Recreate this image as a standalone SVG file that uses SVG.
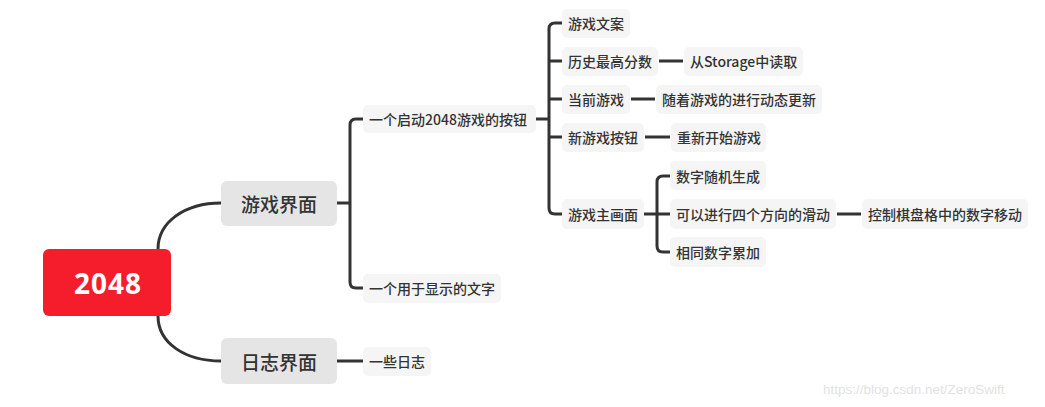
<svg xmlns="http://www.w3.org/2000/svg" width="1045" height="407" viewBox="0 0 1045 407">
<style>
.c{fill:none;stroke:#333;stroke-width:3;stroke-linecap:butt}
.n{fill:#f5f5f5}
.m{fill:#e5e5e5}
.t{font-family:"Noto Sans CJK SC","Noto Sans",sans-serif;fill:#333;font-size:14px;font-weight:500;dominant-baseline:central}
.tm{font-size:19px}
</style>
<rect width="1045" height="407" fill="#fff"/>
<g id="connectors">
<path class="c" d="M158,249 C158,222 185,203 221,203"/>
<path class="c" d="M158,316 C158,343 185,361 221,361"/>
<path class="c" d="M337,203 H350"/>
<path class="c" d="M363,119 H356 Q350,119 350,125 V282 Q350,288 356,288 H363"/>
<path class="c" d="M337,361 H363"/>
<path class="c" d="M536,119 H549"/>
<path class="c" d="M562,23 H555 Q549,23 549,29 V208 Q549,214 555,214 H562"/>
<path class="c" d="M549,61 H562 M549,99 H562 M549,137 H562"/>
<path class="c" d="M659,61 H683 M631,99 H655 M645,137 H670"/>
<path class="c" d="M644,214 H670"/>
<path class="c" d="M670,176 H663 Q657,176 657,182 V246 Q657,252 663,252 H670"/>
<path class="c" d="M837,214 H861"/>
</g>
<g id="root"><rect x="43" y="249" width="128" height="67" rx="6" fill="#f51d2c"/><text x="108" y="283" text-anchor="middle" style="font-family:'Noto Sans','Noto Sans CJK SC',sans-serif;font-size:28px;font-weight:bold;letter-spacing:1px;fill:#fff;dominant-baseline:central">2048</text></g>
<g id="n-game"><rect class="m" x="221" y="181" width="116" height="45" rx="6"/><text class="t tm" x="279" y="203" text-anchor="middle">游戏界面</text></g>
<g id="n-log"><rect class="m" x="221" y="338" width="116" height="46" rx="6"/><text class="t tm" x="279" y="361" text-anchor="middle">日志界面</text></g>
<g id="n-btn"><rect class="n" x="363" y="105" width="173" height="28" rx="5"/><text class="t" x="369" y="119">一个启动2048游戏的按钮</text></g>
<g id="n-text"><rect class="n" x="363" y="274" width="138" height="29" rx="5"/><text class="t" x="369" y="288">一个用于显示的文字</text></g>
<g id="n-logs"><rect class="n" x="363" y="347" width="68" height="29" rx="5"/><text class="t" x="369" y="361">一些日志</text></g>
<g id="n-copy"><rect class="n" x="562" y="9" width="68" height="29" rx="5"/><text class="t" x="568" y="23">游戏文案</text></g>
<g id="n-best"><rect class="n" x="562" y="47" width="96" height="29" rx="5"/><text class="t" x="568" y="61">历史最高分数</text></g>
<g id="n-cur"><rect class="n" x="562" y="85" width="68" height="29" rx="5"/><text class="t" x="568" y="99">当前游戏</text></g>
<g id="n-new"><rect class="n" x="562" y="123" width="82" height="29" rx="5"/><text class="t" x="568" y="137">新游戏按钮</text></g>
<g id="n-main"><rect class="n" x="562" y="199" width="82" height="30" rx="5"/><text class="t" x="568" y="214">游戏主画面</text></g>
<g id="n-storage"><rect class="n" x="684" y="47" width="119" height="29" rx="5"/><text class="t" x="690" y="61">从Storage中读取</text></g>
<g id="n-dyn"><rect class="n" x="656" y="85" width="166" height="29" rx="5"/><text class="t" x="662" y="99">随着游戏的进行动态更新</text></g>
<g id="n-restart"><rect class="n" x="671" y="123" width="95" height="29" rx="5"/><text class="t" x="677" y="137">重新开始游戏</text></g>
<g id="n-rand"><rect class="n" x="670" y="161" width="96" height="29" rx="5"/><text class="t" x="676" y="176">数字随机生成</text></g>
<g id="n-slide"><rect class="n" x="670" y="199" width="166" height="30" rx="5"/><text class="t" x="676" y="214">可以进行四个方向的滑动</text></g>
<g id="n-sum"><rect class="n" x="670" y="237" width="96" height="30" rx="5"/><text class="t" x="676" y="252">相同数字累加</text></g>
<g id="n-move"><rect class="n" x="862" y="199" width="166" height="30" rx="5"/><text class="t" x="868" y="214">控制棋盘格中的数字移动</text></g>
<text x="823" y="394" style="font-family:'Liberation Sans',Arial,sans-serif;font-size:13.5px;fill:#e2e2e2">https://blog.csdn.net/ZeroSwift</text>
</svg>
